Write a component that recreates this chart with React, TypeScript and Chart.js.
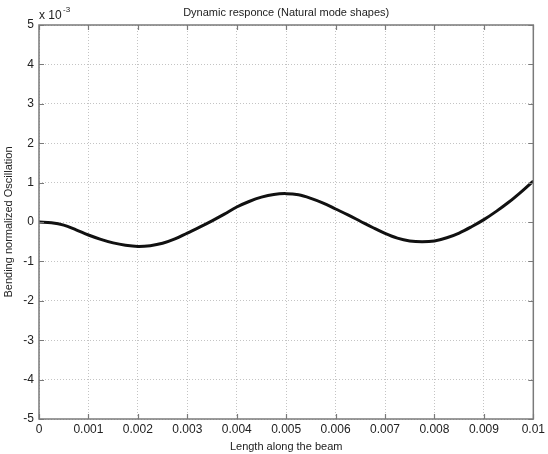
import React, { useEffect, useRef } from "react";
import { Chart, registerables } from "chart.js";

Chart.register(...registerables);

const xValues = [0, 0.00025, 0.0005, 0.00075, 0.001, 0.00125, 0.0015, 0.00175, 0.002, 0.00225, 0.0025, 0.00275, 0.003, 0.00325, 0.0035, 0.00375, 0.004, 0.00425, 0.0045, 0.00475, 0.005, 0.00525, 0.0055, 0.00575, 0.006, 0.00625, 0.0065, 0.00675, 0.007, 0.00725, 0.0075, 0.00775, 0.008, 0.00825, 0.0085, 0.00875, 0.009, 0.00925, 0.0095, 0.00975, 0.01];
// values in units of 1e-3
const yValues = [0, -0.02, -0.08, -0.2, -0.33, -0.44, -0.53, -0.59, -0.62, -0.6, -0.54, -0.43, -0.28, -0.13, 0.03, 0.2, 0.38, 0.52, 0.63, 0.7, 0.72, 0.69, 0.6, 0.48, 0.33, 0.18, 0.02, -0.14, -0.29, -0.41, -0.48, -0.5, -0.48, -0.4, -0.28, -0.12, 0.06, 0.27, 0.5, 0.76, 1.04];
const xTicks = [0, 0.001, 0.002, 0.003, 0.004, 0.005, 0.006, 0.007, 0.008, 0.009, 0.01];
const yTicks = [-5, -4, -3, -2, -1, 0, 1, 2, 3, 4, 5];
const titleText = "Dynamic responce (Natural mode shapes)";
const xTitle = "Length along the beam";
const yTitle = "Bending normalized Oscillation";

const FONT = "Liberation Sans, Arial, sans-serif";
const TEXT = "#222";

const boxPlugin = {
  id: "boxPlugin",
  afterDraw(chart: any) {
    const { ctx, chartArea } = chart;
    const { left, right, top, bottom } = chartArea;
    const xs = chart.scales.x;
    const ys = chart.scales.y;
    ctx.save();
    ctx.strokeStyle = "#7a7a7a";
    ctx.lineWidth = 1.2;
    ctx.beginPath();
    const tl = 5;
    xTicks.forEach((t) => {
      const px = Math.round(xs.getPixelForValue(t)) + 0.5;
      ctx.moveTo(px, bottom);
      ctx.lineTo(px, bottom - tl);
      ctx.moveTo(px, top);
      ctx.lineTo(px, top + tl);
    });
    yTicks.forEach((t) => {
      const py = Math.round(ys.getPixelForValue(t)) + 0.5;
      ctx.moveTo(left, py);
      ctx.lineTo(left + tl, py);
      ctx.moveTo(right, py);
      ctx.lineTo(right - tl, py);
    });
    ctx.stroke();
    ctx.lineWidth = 1.5;
    ctx.strokeRect(left, top, right - left, bottom - top);
    // title
    ctx.fillStyle = TEXT;
    ctx.font = `11px ${FONT}`;
    ctx.textAlign = "center";
    ctx.textBaseline = "middle";
    ctx.fillText(titleText, (left + right) / 2, 13);
    // exponent
    ctx.textAlign = "left";
    ctx.font = `12px ${FONT}`;
    ctx.fillText("x 10", left, 16);
    ctx.font = `8px ${FONT}`;
    ctx.fillText("-3", left + 24, 10);
    ctx.restore();
  },
};

export default function App() {
  const ref = useRef<HTMLCanvasElement>(null);
  useEffect(() => {
    const chart = new Chart(ref.current as HTMLCanvasElement, {
      type: "line",
      data: {
        datasets: [
          {
            data: xValues.map((x, i) => ({ x, y: yValues[i] })),
            borderColor: "#111",
            borderWidth: 3,
            pointRadius: 0,
            tension: 0.35,
            fill: false,
          },
        ],
      },
      options: {
        animation: false,
        responsive: false,
        maintainAspectRatio: false,
        layout: { padding: { top: 25, right: 10, left: 0, bottom: 0 } },
        plugins: { legend: { display: false }, tooltip: { enabled: false }, title: { display: false } },
        scales: {
          x: {
            type: "linear",
            min: 0,
            max: 0.01,
            afterBuildTicks: (s: any) => {
              s.ticks = xTicks.map((v) => ({ value: v }));
            },
            afterFit: (s: any) => {
              s.height = 35;
            },
            ticks: {
              color: TEXT,
              font: { family: FONT, size: 12 },
              padding: 3,
              maxRotation: 0,
              autoSkip: false,
              callback: (v: any) => String(Number(v).toFixed(3)).replace(/^0\.000$/, "0").replace(/^0\.010$/, "0.01"),
            },
            grid: { color: "#c4c4c4", drawTicks: false, lineWidth: 1 },
            border: { display: false, dash: [1, 2] },
            title: { display: true, text: xTitle, color: TEXT, font: { family: FONT, size: 11 }, padding: { top: 1, bottom: 0 } },
          },
          y: {
            type: "linear",
            min: -5,
            max: 5,
            afterBuildTicks: (s: any) => {
              s.ticks = yTicks.map((v) => ({ value: v }));
            },
            afterFit: (s: any) => {
              s.width = 39;
            },
            ticks: {
              color: TEXT,
              font: { family: FONT, size: 12 },
              padding: 5,
              autoSkip: false,
            },
            grid: { color: "#c4c4c4", drawTicks: false, lineWidth: 1 },
            border: { display: false, dash: [1, 2] },
            title: { display: true, text: yTitle, color: TEXT, font: { family: FONT, size: 11 }, padding: { top: 2, bottom: 0 } },
          },
        },
      },
      plugins: [boxPlugin],
    } as any);
    return () => chart.destroy();
  }, []);
  return (
    <div style={{ position: "fixed", left: 0, top: 0, width: 548, height: 454, background: "#fff" }}>
      <canvas ref={ref} width={548} height={454} style={{ width: 548, height: 454 }} />
    </div>
  );
}
